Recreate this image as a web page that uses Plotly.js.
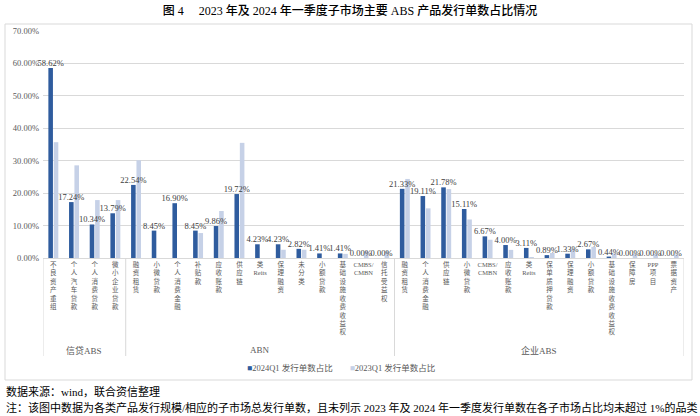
<!DOCTYPE html>
<html><head><meta charset="utf-8">
<script src="https://cdn.plot.ly/plotly-3.0.1.min.js"></script>
<style>html,body{margin:0;padding:0;background:#fff}#chart{width:700px;height:416px}</style>
</head><body><div id="chart"></div>
<script>
const groups = ['信贷ABS', 'ABN', '企业ABS'];
const groupSizes = [4, 13, 14];
const categories = [
  '不良资产重组', '个人汽车贷款', '个人消费贷款', '微小企业贷款',
  '融资租赁', '小微贷款', '个人消费金融', '补贴款', '应收账款', '供应链', '类Reits', '保理融资', '未分类', '小额贷款', '基础设施收费收益权', 'CMBS/CMBN', '信托受益权',
  '融资租赁', '个人消费金融', '供应链', '小微贷款', 'CMBS/CMBN', '应收账款', '类Reits', '保单质押贷款', '保理融资', '小额贷款', '基础设施收费收益权', '保障房', 'PPP项目', '票据资产'
];
const q2024 = [58.62, 17.24, 10.34, 13.79,
  22.54, 8.45, 16.90, 8.45, 9.86, 19.72, 4.23, 4.23, 2.82, 1.41, 1.41, 0.00, 0.00,
  21.33, 19.11, 21.78, 15.11, 6.67, 4.00, 3.11, 0.89, 1.33, 2.67, 0.44, 0.00, 0.00, 0.00];
const q2023 = [35.71, 28.57, 17.86, 17.86,
  30.14, 0, 0, 7.69, 14.49, 35.51, 0, 2.54, 2.54, 0, 1.27, 2.03, 2.03,
  24.38, 15.31, 21.25, 11.88, 5.63, 2.50, 0.31, 1.56, 2.81, 3.44, 1.41, 1.25, 1.25, 1.09];
const seriesNames = ['2024Q1 发行单数占比', '2023Q1 发行单数占比'];
const yTicks = [0, 10, 20, 30, 40, 50, 60, 70];
const titleText = '图 4　 2023 年及 2024 年一季度子市场主要 ABS 产品发行单数占比情况';
const sourceText = '数据来源：wind，联合资信整理';
const noteText = '注：该图中数据为各类产品发行规模/相应的子市场总发行单数，且未列示 2023 年及 2024 年一季度发行单数在各子市场占比均未超过 1%的品类';

const colors = ['#2F5C9E', '#C6D1E7'];

const groupOf = [];
groups.forEach((g, gi) => { for (let k = 0; k < groupSizes[gi]; k++) groupOf.push(g); });
const keys = categories.map((c, i) => groupOf[i] + '|' + c);

function stack(label) {
  const toks = label.match(/[A-Za-z\/]+|./g) || [];
  const out = [];
  toks.forEach(t => {
    if (/^[A-Za-z\/]+$/.test(t) && t.includes('/')) {
      const parts = t.split('/');
      parts.forEach((p, i) => out.push(i < parts.length - 1 ? p + '/' : p));
    } else out.push(t);
  });
  return out.join('<br>');
}
const tickText = categories.map(stack);

const serif = 'Liberation Serif, Noto Sans CJK SC, serif';
const cjk = 'Liberation Serif, Noto Sans CJK SC, sans-serif';

const PT = 31, PB = 258, PH = PB - PT;
const PL = 43, PR = 684, PW = PR - PL;
const py = Y => (PB - Y) / PH;
const px = X => (X - PL) / PW;

const traces = [
  {type: 'bar', name: seriesNames[0], x: keys, y: q2024, offsetgroup: 'a', marker: {color: colors[0]}, hoverinfo: 'skip'},
  {type: 'bar', name: seriesNames[1], x: keys, y: q2023, offsetgroup: 'b', marker: {color: colors[1]}, hoverinfo: 'skip'},
  {type: 'bar', name: seriesNames[0] + ' 标签', x: keys, y: q2024, offsetgroup: 'a', marker: {color: 'rgba(0,0,0,0)'},
   texttemplate: '%{y:.2f}%', textposition: 'outside', constraintext: 'none', cliponaxis: false,
   textfont: {family: serif, size: 8.5, color: '#404040'}, hoverinfo: 'skip', showlegend: false}
];

const shapes = [];
const annotations = [];
let start = 0;
shapes.push({type: 'line', xref: 'x', yref: 'paper', x0: -0.5, x1: -0.5, y0: 0, y1: py(356), line: {color: '#D9D9D9', width: 1}});
groups.forEach((g, gi) => {
  const end = start + groupSizes[gi];
  shapes.push({type: 'line', xref: 'x', yref: 'paper', x0: end - 0.5, x1: end - 0.5, y0: 0, y1: py(356), line: {color: '#D9D9D9', width: 1}});
  annotations.push({xref: 'x', yref: 'paper', x: (start + end - 1) / 2, y: py(350), text: g, showarrow: false,
    font: {family: cjk, size: 9, color: '#595959'}, yanchor: 'middle'});
  start = end;
});
shapes.push({type: 'rect', xref: 'paper', yref: 'paper', x0: px(5), x1: px(692), y0: py(380), y1: py(24), line: {color: '#D9D9D9', width: 1}, layer: 'below'});

annotations.push({xref: 'paper', yref: 'paper', x: px(341), y: py(368), xanchor: 'center', yanchor: 'middle', showarrow: false,
  text: seriesNames.map((n, i) => '<span style="color:' + colors[i] + '">■</span>' + n).join('　　'),
  font: {family: cjk, size: 8.5, color: '#595959'}});
annotations.push({xref: 'paper', yref: 'paper', x: px(4), y: py(391), xanchor: 'left', yanchor: 'middle', showarrow: false,
  text: sourceText, font: {family: cjk, size: 11, color: '#000'}});
annotations.push({xref: 'paper', yref: 'paper', x: px(4), y: py(407), xanchor: 'left', yanchor: 'middle', showarrow: false,
  text: noteText, font: {family: cjk, size: 11, color: '#000'}});

const layout = {
  width: 700, height: 416,
  margin: {l: PL, r: 700 - PR, t: PT, b: 416 - PB, pad: 0},
  paper_bgcolor: '#fff', plot_bgcolor: '#fff',
  title: {text: titleText, x: 0.5, xref: 'container', y: 1 - 11 / 416, yref: 'container', yanchor: 'middle', xanchor: 'center',
    font: {family: cjk, size: 12, color: '#000', weight: 500}},
  showlegend: false,
  barmode: 'group', bargap: 0.48, bargroupgap: 0.15,
  xaxis: {type: 'category', tickmode: 'array', tickvals: keys, ticktext: tickText,
    tickfont: {family: cjk, size: 6.5, color: '#595959'}, tickangle: 0,
    showline: true, linecolor: '#D9D9D9', linewidth: 1, ticks: '', showgrid: false,
    range: [-0.5, keys.length - 0.5], fixedrange: true},
  yaxis: {range: [0, 70], tickmode: 'array', tickvals: yTicks, ticktext: yTicks.map(v => v.toFixed(2) + '%'),
    tickfont: {family: serif, size: 8.5, color: '#595959'}, showgrid: true, gridcolor: '#D9D9D9', gridwidth: 1,
    zeroline: false, showline: false, ticks: '', ticklabelstandoff: 3, fixedrange: true},
  shapes: shapes,
  annotations: annotations
};

Plotly.newPlot('chart', traces, layout, {displayModeBar: false, staticPlot: true});
</script>
</body></html>
